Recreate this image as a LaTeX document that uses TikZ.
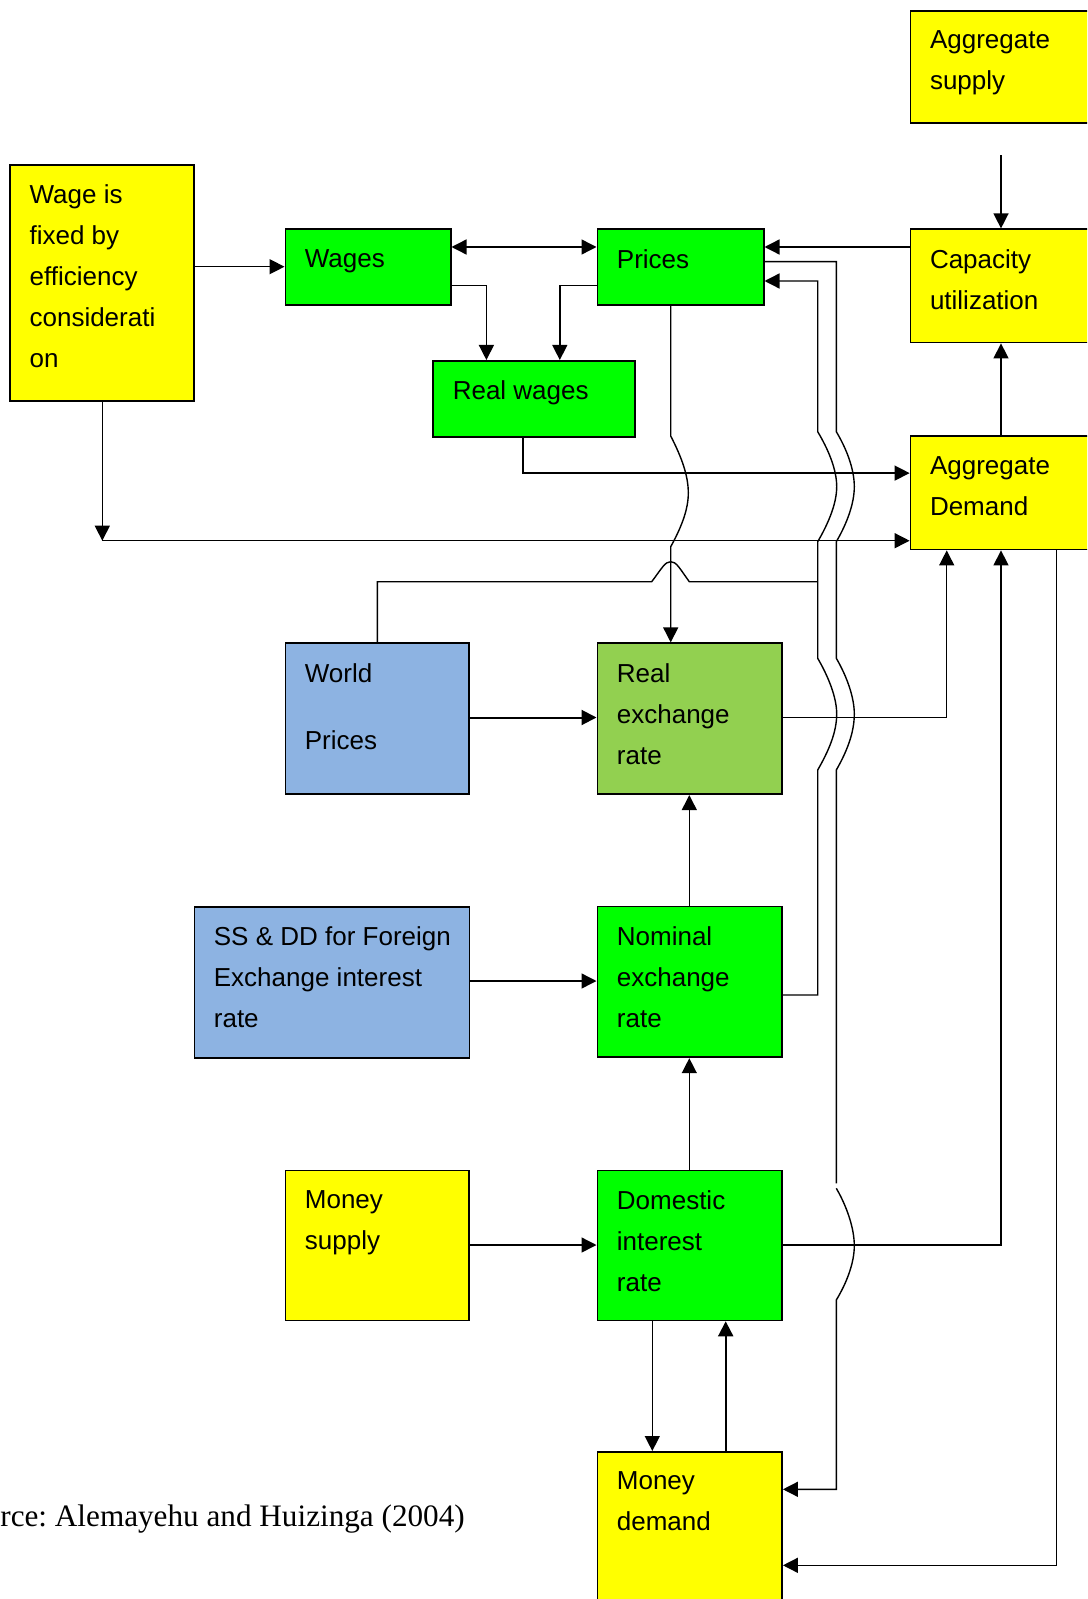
\documentclass[tikz,border=0pt]{standalone}
\usepackage{fontspec}
\setmainfont{Liberation Sans}
\newfontfamily\seriffont{Liberation Serif}
\usepackage{tikz}
\usetikzlibrary{arrows.meta,positioning}
\definecolor{boxyellow}{RGB}{255,255,0}
\definecolor{boxgreen}{RGB}{0,255,0}
\definecolor{boxlime}{RGB}{146,208,80}
\definecolor{boxblue}{RGB}{141,179,226}
\tikzstyle{link} = [line width=0.7pt]
\tikzstyle{arrow} = [line width=0.7pt,-{Triangle[length=7.5pt,width=7.5pt]}]
\tikzstyle{box} = [draw=black, line width=0.9pt, anchor=north west, inner sep=0pt]
\tikzstyle{txt} = [anchor=north west, align=left, inner sep=0pt, xshift=10pt, yshift=-10.2pt, font=\fontsize{13}{20.5}\selectfont]

\begin{document}
\begin{tikzpicture}[x=0.5pt, y=-0.5pt]
			\useasboundingbox (0,0) rectangle (1087,1599);
			\clip (0,0) rectangle (1087,1599);
			% boxes
			\node[box, fill=boxyellow, minimum width=95.2pt, minimum height=56.1pt, label={[txt]north west:Aggregate\\supply}] (as) at (909.6,10.2) {};
			\node[box, fill=boxyellow, minimum width=92pt, minimum height=117.8pt, label={[txt]north west:Wage is\\fixed by\\efficiency\\considerati\\on}] (wage) at (9.2,164.2) {};
			\node[box, fill=boxgreen, minimum width=82.6pt, minimum height=37.75pt, label={[txt]north west:Wages}] (wages) at (284.5,228.4) {};
			\node[box, fill=boxgreen, minimum width=83.1pt, minimum height=37.75pt, label={[txt]north west:Prices}] (prices) at (596.5,228.4) {};
			\node[box, fill=boxyellow, minimum width=95.2pt, minimum height=56.6pt, label={[txt]north west:Capacity\\utilization}] (cu) at (909.6,228.4) {};
			\node[box, fill=boxgreen, minimum width=100.95pt, minimum height=38.2pt, label={[txt]north west:Real wages}] (rw) at (432.4,360) {};
			\node[box, fill=boxyellow, minimum width=95.2pt, minimum height=56.6pt, label={[txt]north west:Aggregate\\Demand}] (ad) at (909.6,435.4) {};
			\node[box, fill=boxblue, minimum width=91.75pt, minimum height=75.45pt, label={[txt]north west:World\\[13.2pt]Prices}] (wp) at (284.5,642.4) {};
			\node[box, fill=boxlime, minimum width=92.3pt, minimum height=75.45pt, label={[txt]north west:Real\\exchange\\rate}] (rer) at (596.5,642.4) {};
			\node[box, fill=boxblue, minimum width=137.5pt, minimum height=75.4pt, label={[txt]north west:SS \& DD for Foreign\\Exchange interest\\rate}] (ss) at (193.5,906) {};
			\node[box, fill=boxgreen, minimum width=92.3pt, minimum height=75.45pt, label={[txt]north west:Nominal\\exchange\\rate}] (ner) at (596.5,905.5) {};
			\node[box, fill=boxyellow, minimum width=91.75pt, minimum height=74.95pt, label={[txt]north west:Money\\supply}] (ms) at (284.5,1169.6) {};
			\node[box, fill=boxgreen, minimum width=92.3pt, minimum height=74.95pt, label={[txt]north west:Domestic\\interest\\rate}] (dir) at (596.5,1169.6) {};
			\node[box, fill=boxyellow, minimum width=92.3pt, minimum height=100pt, label={[txt]north west:Money\\demand}] (md) at (596.5,1451) {};
			\node[anchor=base west, inner sep=0pt, font=\seriffont\fontsize{15.6}{18}\selectfont] (src) at (0,1526.5) {rce:\ Alemayehu and Huizinga (2004)};
			% bend points
			\coordinate (wy) at (0,266.7);
			\coordinate (py) at (0,247);
			\coordinate (fy) at (0,261.7);
			\coordinate (by) at (0,281);
			\coordinate (wr) at (486.4,285.5);
			\coordinate (pr) at (559.8,285.5);
			\coordinate (cx) at (1001,0);
			\coordinate (rb) at (523.1,473.1);
			\coordinate (wc) at (102.3,540.7);
			\coordinate (px) at (670.7,0);
			\coordinate (wx) at (377.3,581.7);
			\coordinate (wj) at (817.7,581.7);
			\coordinate (ey) at (0,717.5);
			\coordinate (ax) at (946.7,0);
			\coordinate (nx) at (689.3,0);
			\coordinate (sy) at (0,981);
			\coordinate (ny) at (0,995);
			\coordinate (my) at (0,1245);
			\coordinate (qy) at (0,1489.3);
			\coordinate (dl) at (652.3,0);
			\coordinate (dr) at (725.7,0);
			\coordinate (bl) at (1056.7,1565.3);
			% connectors
			\draw[arrow] (wage.east |- wy) -- (wages.west |- wy);
			\draw[link, {Triangle[length=7.5pt,width=7.5pt]}-{Triangle[length=7.5pt,width=7.5pt]}] (wages.east |- py) -- (prices.west |- py);
			\draw[arrow] (wages.east |- wr) -| (rw.north -| wr);
			\draw[arrow] (prices.west |- pr) -| (rw.north -| pr);
			\draw[arrow] (cu.west |- py) -- (prices.east |- py);
			\draw[arrow, shorten <=15.5pt] (as.south -| cx) -- (cu.north -| cx);
			\draw[arrow] (ad.north -| cx) -- (cu.south -| cx);
			\draw[arrow] (rw.south -| rb) |- (ad.west |- rb);
			\draw[arrow] (wage.south -| wc) -- (wc);
			\draw[arrow] (wc) -- (ad.west |- wc);
			\draw[arrow] (prices.south -| px) -- (670.7,436) .. controls (682,458) and (688.3,476) .. (688.3,493) .. controls (688.3,510) and (681,528) .. (670.7,546.7) -- (rer.north -| px);
			\draw[link] (wp.north -| wx) -- (wx) -- (651.7,581.7) .. controls (662,568) and (665,561.7) .. (670.7,561.7) .. controls (676.4,561.7) and (679.4,568) .. (689.3,581.7) -- (wj);
			\draw[arrow] (ner.east |- ny) -- (817.7,995) -- (817.7,770) .. controls (828,752) and (836.7,733) .. (836.7,714) .. controls (836.7,697) and (828,676) .. (817.7,658.3) -- (817.7,541.7) .. controls (828,524) and (836.7,504) .. (836.7,486.7) .. controls (836.7,469) and (828,449) .. (817.7,431.7) -- (817.7,281) -- (prices.east |- by);
			\draw[arrow] (prices.east |- fy) -- (836.3,261.7) -- (836.3,431.7) .. controls (846.6,449) and (854.3,469) .. (854.3,486.7) .. controls (854.3,504) and (846.6,524) .. (836.3,541.7) -- (836.3,658.3) .. controls (846.6,676) and (854.3,697) .. (854.3,714) .. controls (854.3,733) and (846.6,752) .. (836.3,770) -- (836.3,1183.3) (836.3,1188.3) .. controls (846.6,1206) and (854.3,1228) .. (854.3,1245.7) .. controls (854.3,1263) and (846.6,1283) .. (836.3,1300) -- (836.3,1489.3) -- (md.east |- qy);
			\draw[arrow, line width=1pt] (wp.east |- ey) -- (rer.west |- ey);
			\draw[arrow] (rer.east |- ey) -| (ad.south -| ax);
			\draw[arrow] (ner.north -| nx) -- (rer.south -| nx);
			\draw[arrow] (ss.east |- sy) -- (ner.west |- sy);
			\draw[arrow] (dir.north -| nx) -- (ner.south -| nx);
			\draw[arrow] (ms.east |- my) -- (dir.west |- my);
			\draw[arrow] (dir.east |- my) -| (ad.south -| cx);
			\draw[arrow] (dir.south -| dl) -- (md.north -| dl);
			\draw[arrow, line width=1pt] (md.north -| dr) -- (dir.south -| dr);
			\draw[arrow] (ad.south -| bl) |- (md.east |- bl);
		\end{tikzpicture}
\end{document}
